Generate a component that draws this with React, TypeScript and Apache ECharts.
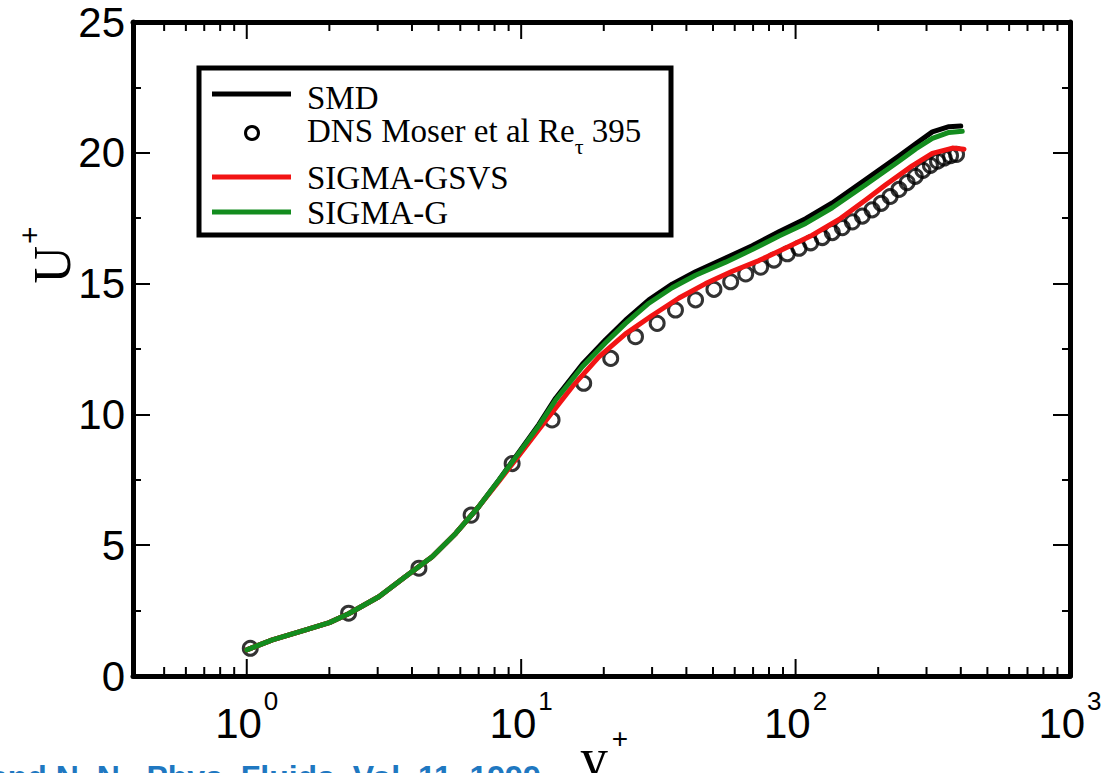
import React, { useEffect, useRef } from 'react';
import * as echarts from 'echarts';

// ---- data ----
const smdYPlus = [1.0, 1.24, 1.64, 2.0, 2.35, 3.03, 3.79, 4.74, 5.77, 7.0, 8.3, 9.8, 11.6, 13.35, 16.7, 20.3, 24, 29.2, 35.5, 43.2, 55.6, 69.5, 87, 108.8, 136, 180, 238, 274, 315, 362, 400];
const smdU = [1.0, 1.38, 1.76, 2.04, 2.38, 3.03, 3.8, 4.56, 5.45, 6.47, 7.49, 8.55, 9.62, 10.62, 11.92, 12.85, 13.6, 14.38, 14.98, 15.45, 15.98, 16.45, 16.98, 17.48, 18.08, 18.98, 19.88, 20.35, 20.8, 21.0, 21.02];

const dnsYPlus = [1.03, 2.35, 4.24, 6.57, 9.27, 12.96, 16.9, 21.2, 26.1, 31.3, 36.5, 43.2, 50.4, 58.0, 65.8, 74.6, 83.4, 93.3, 102.9, 113.5, 125.1, 136.1, 148, 161, 175, 190, 205, 221, 238, 255, 273, 291, 310, 329, 348, 367, 386];
const dnsU = [1.06, 2.4, 4.12, 6.15, 8.12, 9.79, 11.19, 12.14, 12.97, 13.48, 13.99, 14.38, 14.78, 15.07, 15.37, 15.63, 15.9, 16.14, 16.35, 16.56, 16.76, 16.95, 17.14, 17.36, 17.58, 17.82, 18.07, 18.33, 18.6, 18.86, 19.1, 19.33, 19.52, 19.68, 19.8, 19.89, 19.94];

const gsvsYPlus = [1.0, 1.24, 1.64, 2.0, 2.35, 3.03, 3.79, 4.74, 5.77, 7.0, 8.3, 9.8, 11.6, 15.35, 19.2, 24, 30, 37.6, 47, 58.8, 73.5, 92, 115, 144, 180, 213, 266, 315, 373, 411];
const gsvsU = [1.0, 1.38, 1.76, 2.04, 2.38, 3.03, 3.8, 4.56, 5.45, 6.47, 7.45, 8.42, 9.42, 11.06, 12.2, 13.08, 13.78, 14.45, 15.0, 15.47, 15.88, 16.36, 16.85, 17.45, 18.2, 18.78, 19.5, 19.98, 20.18, 20.14];

const sigmaGYPlus = [1.0, 1.24, 1.64, 2.0, 2.35, 3.03, 3.79, 4.74, 5.77, 7.0, 8.3, 9.8, 11.6, 13.35, 16.7, 20.3, 24, 29.2, 35.5, 43.2, 55.6, 69.5, 87, 108.8, 136, 180, 238, 274, 315, 362, 405];
const sigmaGU = [1.0, 1.38, 1.76, 2.04, 2.38, 3.03, 3.8, 4.56, 5.45, 6.47, 7.49, 8.52, 9.57, 10.55, 11.82, 12.74, 13.48, 14.25, 14.84, 15.32, 15.82, 16.3, 16.82, 17.3, 17.9, 18.78, 19.68, 20.15, 20.55, 20.78, 20.82];

const xMajorTicks = [1, 10, 100, 1000];
const xMinorTicks = [0.5, 0.6, 0.7, 0.8, 0.9, 2, 3, 4, 5, 6, 7, 8, 9, 20, 30, 40, 50, 60, 70, 80, 90, 200, 300, 400, 500, 600, 700, 800, 900];
const X_MIN = 0.385;
const X_MAX = 1000;
const Y_MIN = 0;
const Y_MAX = 25;
const Y_STEP = 5;

const legendNames = ['SMD', 'DNS Moser et al Re', 'SIGMA-GSVS', 'SIGMA-G'];
const citation = 'and N. N., Phys. Fluids, Vol. 11, 1999';

const zip = (a: number[], b: number[]) => a.map((v, i) => [v, b[i]]);

export default function App() {
  const ref = useRef<HTMLDivElement>(null);
  useEffect(() => {
    if (!ref.current) return;
    const chart = echarts.init(ref.current, undefined, { renderer: 'svg' });
    const black = '#000';
    const red = '#f21414';
    const green = '#138c1e';
    const sans = 'Liberation Sans';
    const serif = 'Liberation Serif';
    const xLabelFmt = (v: number) => {
      const e = Math.log10(v);
      const r = Math.round(e);
      if (Math.abs(e - r) > 1e-6) return '';
      return `{b|10}{s|${r}}`;
    };
    const tick = { show: true, inside: true, length: 17, lineStyle: { color: black, width: 2 } };
    const axisLine = { show: true, onZero: false, lineStyle: { color: black, width: 5 } };
    const yMinor = { show: true, splitNumber: 2, length: 8, lineStyle: { color: black, width: 2 } };

    const tickSeries = (values: number[], len: number) => ({
      type: 'custom', xAxisIndex: 0, yAxisIndex: 0, silent: true, clip: false, z: 5,
      data: values.map((v) => [v, Y_MIN]),
      renderItem: (_p: any, api: any) => {
        const v = api.value(0);
        const b = api.coord([v, Y_MIN]);
        const t = api.coord([v, Y_MAX]);
        return {
          type: 'group',
          children: [
            { type: 'line', shape: { x1: b[0], y1: b[1], x2: b[0], y2: b[1] - len }, style: { stroke: black, lineWidth: 2 } },
            { type: 'line', shape: { x1: t[0], y1: t[1], x2: t[0], y2: t[1] + len }, style: { stroke: black, lineWidth: 2 } },
          ],
        };
      },
    });

    chart.setOption({
      animation: false,
      backgroundColor: '#fff',
      grid: { left: 133, right: 36, top: 22, bottom: 97, containLabel: false },
      xAxis: [
        {
          type: 'log', min: X_MIN, max: X_MAX, position: 'bottom',
          axisLine, axisTick: { show: false }, splitLine: { show: false }, minorTick: { show: false },
          axisLabel: {
            show: true, margin: 12, formatter: xLabelFmt,
            rich: {
              b: { fontSize: 42, fontFamily: sans, color: black, padding: [14, 0, 0, 0], verticalAlign: 'bottom' },
              s: { fontSize: 26, fontFamily: sans, color: black, verticalAlign: 'top', padding: [0, 0, 0, 2] },
            },
          },
        },
        {
          type: 'log', min: X_MIN, max: X_MAX, position: 'top',
          axisLine, axisTick: { show: false }, splitLine: { show: false }, minorTick: { show: false }, axisLabel: { show: false },
        },
      ],
      yAxis: [
        {
          type: 'value', min: Y_MIN, max: Y_MAX, interval: Y_STEP, position: 'left',
          axisLine, axisTick: tick, minorTick: yMinor, splitLine: { show: false },
          axisLabel: { show: true, margin: 8, fontSize: 42, fontFamily: sans, color: black },
        },
        {
          type: 'value', min: Y_MIN, max: Y_MAX, interval: Y_STEP, position: 'right',
          axisLine, axisTick: tick, minorTick: yMinor, splitLine: { show: false },
          axisLabel: { show: false },
        },
      ],
      series: [
        tickSeries(xMajorTicks, 17),
        tickSeries(xMinorTicks, 9),
        {
          name: legendNames[0], type: 'line', data: zip(smdYPlus, smdU), symbol: 'none',
          lineStyle: { color: black, width: 5, join: 'round', cap: 'round' },
        },
        {
          name: legendNames[1], type: 'scatter', data: zip(dnsYPlus, dnsU), symbol: 'circle', symbolSize: 14,
          itemStyle: { color: 'rgba(0,0,0,0)', borderColor: black, borderWidth: 3 },
        },
        {
          name: legendNames[2], type: 'line', data: zip(gsvsYPlus, gsvsU), symbol: 'none',
          lineStyle: { color: red, width: 5, join: 'round', cap: 'round' },
        },
        {
          name: legendNames[3], type: 'line', data: zip(sigmaGYPlus, sigmaGU), symbol: 'none',
          lineStyle: { color: green, width: 5, join: 'round', cap: 'round' },
        },
      ],
      graphic: [
        // legend box
        { type: 'rect', shape: { x: 199, y: 68, width: 472, height: 167 }, style: { fill: '#fff', stroke: black, lineWidth: 5 }, z: 100 },
        { type: 'line', shape: { x1: 212, y1: 94, x2: 291, y2: 94 }, style: { stroke: black, lineWidth: 5 }, z: 101 },
        { type: 'circle', shape: { cx: 252, cy: 133, r: 6.5 }, style: { fill: 'none', stroke: black, lineWidth: 3 }, z: 101 },
        { type: 'line', shape: { x1: 212, y1: 177, x2: 291, y2: 177 }, style: { stroke: red, lineWidth: 5 }, z: 101 },
        { type: 'line', shape: { x1: 212, y1: 212, x2: 291, y2: 212 }, style: { stroke: green, lineWidth: 5 }, z: 101 },
        { type: 'text', x: 307, y: 98, z: 101, style: { text: legendNames[0], fontSize: 33, fontFamily: serif, fill: black, verticalAlign: 'middle' } },
        {
          type: 'text', x: 307, y: 136, z: 101,
          style: {
            text: `{t|${legendNames[1]}}{sub|τ}{t| 395}`, verticalAlign: 'middle',
            rich: {
              t: { fontSize: 33, fontFamily: serif, fill: black, verticalAlign: 'top', padding: [0, 0, 10, 0] },
              sub: { fontSize: 22, fontFamily: serif, fill: black, verticalAlign: 'bottom' },
            },
          },
        },
        { type: 'text', x: 307, y: 178, z: 101, style: { text: legendNames[2], fontSize: 33, fontFamily: serif, fill: black, verticalAlign: 'middle' } },
        { type: 'text', x: 307, y: 213, z: 101, style: { text: legendNames[3], fontSize: 33, fontFamily: serif, fill: black, verticalAlign: 'middle' } },
        // y axis name
        {
          type: 'text', x: 46, y: 255, rotation: Math.PI / 2,
          style: {
            text: '{u|U}{p|+}', align: 'center', verticalAlign: 'middle',
            rich: {
              u: { fontSize: 52, fontFamily: serif, fill: black, verticalAlign: 'bottom', padding: [12, 0, 0, 0] },
              p: { fontSize: 30, fontFamily: sans, fill: black, verticalAlign: 'top', padding: [0, 0, 0, 2] },
            },
          },
        },
        // x axis name
        { type: 'text', x: 594, y: 758, style: { text: 'y', fontSize: 56, fontFamily: serif, fill: black, align: 'center', verticalAlign: 'middle' } },
        { type: 'text', x: 620, y: 738, style: { text: '+', fontSize: 28, fontFamily: sans, fill: black, align: 'center', verticalAlign: 'middle' } },
        // cropped citation
        { type: 'text', x: -10, y: 761, style: { text: citation, fontSize: 32, fontWeight: 'bold', fontFamily: sans, fill: '#1f78c1', verticalAlign: 'top' } },
      ],
    });
    return () => chart.dispose();
  }, []);
  return <div ref={ref} style={{ position: 'fixed', left: 0, top: 0, width: 1106, height: 773 }} />;
}
